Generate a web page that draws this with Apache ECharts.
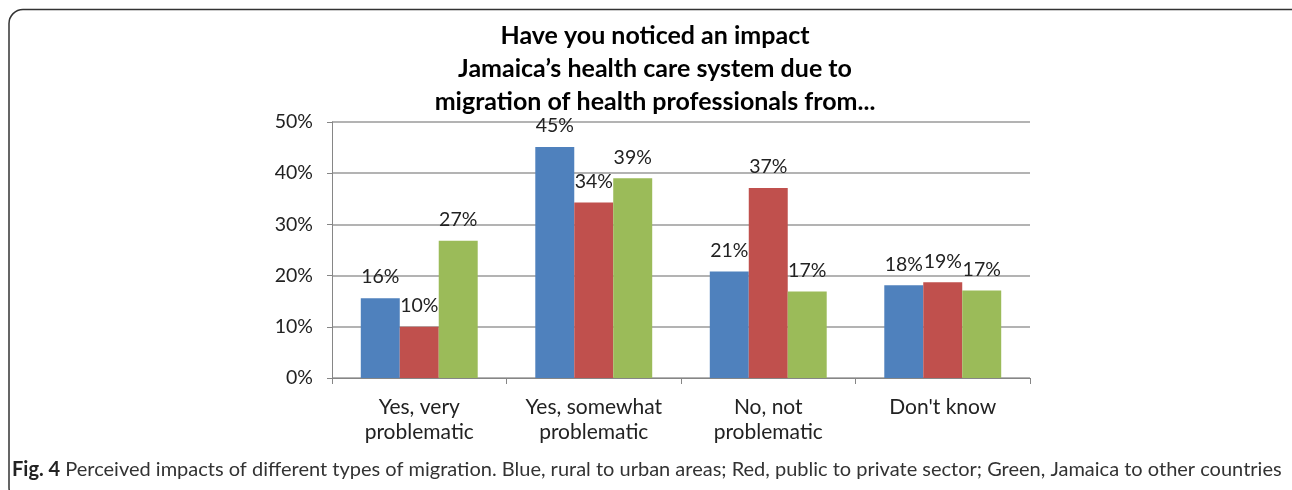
<!DOCTYPE html>
<html>
<head>
<meta charset="utf-8">
<script src="https://cdn.jsdelivr.net/npm/echarts@6/dist/echarts.min.js"></script>
<style>
  html, body { margin: 0; padding: 0; background: #ffffff; }
  #chart { width: 1292px; height: 490px; }
</style>
</head>
<body>
<div id="chart"></div>
<script>
// Survey answers (x axis)
const categories = ['Yes, very\nproblematic', 'Yes, somewhat\nproblematic', 'No, not\nproblematic', "Don't know"];
// Share of respondents (%) for each type of migration
const ruralToUrban = [15.6, 45.1, 20.8, 18.1];
const publicToPrivate = [10.0, 34.3, 37.1, 18.7];
const jamaicaToAbroad = [26.8, 39.0, 16.9, 17.1];
const seriesNames = ['Rural to urban areas', 'Public to private sector', 'Jamaica to other countries'];
const seriesColors = ['#4F81BD', '#C0504D', '#9BBB59'];
const titleLines = ['Have you noticed an impact', 'Jamaica\u2019s health care system due to', 'migration of health professionals from...'];
const captionBold = 'Fig. 4';
const captionText = ' Perceived impacts of different types of migration. Blue, rural to urban areas; Red, public to private sector; Green, Jamaica to other countries';

const chart = echarts.init(document.getElementById('chart'));
const font = 'Lato, "Open Sans", sans-serif';
const axisGray = '#868686';

function barSeries(name, values, color) {
  return {
    name: name,
    type: 'bar',
    data: values,
    barGap: '0%',
    barCategoryGap: '33%',
    itemStyle: { color: color },
    label: {
      show: true,
      position: 'top',
      distance: 11,
      fontFamily: font,
      fontSize: 19.5,
      color: '#222',
      formatter: p => Math.round(p.value) + '%'
    }
  };
}

chart.setOption({
  animation: false,
  backgroundColor: '#ffffff',
  grid: { left: 332, right: 262, top: 122, bottom: 112 },
  xAxis: {
    type: 'category',
    data: categories,
    axisLine: { lineStyle: { color: axisGray, width: 1 } },
    axisTick: { show: true, length: 6, lineStyle: { color: axisGray } },
    axisLabel: {
      fontFamily: font, fontSize: 21, color: '#222',
      lineHeight: 25, margin: 17, interval: 0
    }
  },
  yAxis: {
    type: 'value',
    min: 0, max: 50, interval: 10,
    axisLine: { show: true, lineStyle: { color: axisGray, width: 1 } },
    axisTick: { show: true, length: 5, lineStyle: { color: axisGray } },
    splitLine: { lineStyle: { color: '#9a9a9a', width: 1.5 } },
    axisLabel: {
      fontFamily: font, fontSize: 19.5, color: '#222', margin: 19,
      formatter: '{value}%'
    }
  },
  series: [
    barSeries(seriesNames[0], ruralToUrban, seriesColors[0]),
    barSeries(seriesNames[1], publicToPrivate, seriesColors[1]),
    barSeries(seriesNames[2], jamaicaToAbroad, seriesColors[2])
  ],
  graphic: [
    {
      type: 'rect',
      shape: { x: 9, y: 9.5, width: 1300, height: 492, r: 14 },
      style: { fill: 'none', stroke: '#333', lineWidth: 1.5 },
      silent: true
    },
    {
      type: 'text',
      x: 655, y: 19,
      style: {
        text: titleLines.join('\n'),
        fontFamily: font, fontSize: 25, fontWeight: 'bold',
        lineHeight: 33, fill: '#000', align: 'center', verticalAlign: 'top'
      }
    },
    {
      type: 'text',
      x: 12, y: 470,
      style: {
        text: '{b|' + captionBold + '}{n|' + captionText + '}',
        verticalAlign: 'middle',
        rich: {
          b: { fontFamily: font, fontSize: 20, fontWeight: 'bold', fill: '#222' },
          n: { fontFamily: font, fontSize: 20, fill: '#333' }
        }
      }
    }
  ]
});
</script>
</body>
</html>
